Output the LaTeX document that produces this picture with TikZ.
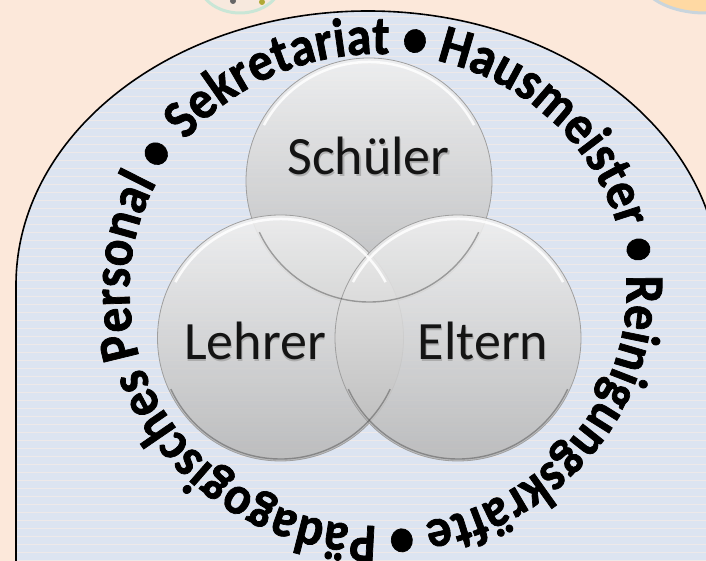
\documentclass[tikz,border=0pt]{standalone}
\usepackage{fontspec}
\setmainfont{Carlito}
\newfontfamily\ringfont{Carlito}[FakeStretch=0.905, FakeBold=1.3]
\usetikzlibrary{decorations.text}
\definecolor{peach}{HTML}{FCE8DA}
\definecolor{paleblue}{HTML}{DCE4F1}
\definecolor{stripe}{HTML}{FBEDE4}
\definecolor{fragA}{HTML}{C9E6D6}
\definecolor{fragB}{HTML}{C9D5DD}
\definecolor{fragBfill}{HTML}{FFD9A3}
\tikzset{
  venn/.style={circle, minimum size=246pt, inner sep=0pt, top color=gray!12, bottom color=gray!56, fill opacity=.88, draw=gray!75, line width=.8pt},
  vlabel/.style={font=\fontsize{54}{60}\selectfont, text=black!92, anchor=base, inner sep=0pt},
  vshadow/.style={font=\fontsize{54}{60}\selectfont, text=gray, opacity=.45, anchor=base, inner sep=0pt},
  hilite/.style={white, line width=2.5pt, opacity=.85},
  lowrim/.style={gray!40!black, line width=1.4pt, opacity=.4}
}
\begin{document}
\begin{tikzpicture}[x=1pt,y=1pt]
\useasboundingbox (0,0) rectangle (706,561);
\fill[peach] (0,0) rectangle (706,561);
\begin{scope}
  \clip (0,0) rectangle (706,561);
  % cut-off pictures at the top
  \filldraw[fill=peach!70!brown!40, draw=fragA, line width=3pt] (240,581) ellipse [x radius=42, y radius=33];
  \fill[black!60] (233,560) circle[radius=3];
  \fill[olive!70] (262,559) circle[radius=3];
  \filldraw[fill=fragBfill, draw=fragB, line width=3pt] (705,586) ellipse [x radius=66, y radius=38];
  % arch
  \fill[paleblue] (16,-5) -- (16,276) arc[start angle=180, end angle=0, x radius=352, y radius=274] -- (720,-5) -- cycle;
  \begin{scope}
    \clip (16,-5) -- (16,276) arc[start angle=180, end angle=0, x radius=352, y radius=274] -- (720,-5) -- cycle;
    \foreach \yy in {1,9,...,561} \draw[stripe, line width=.3pt, opacity=.6] (0,\yy) -- (720,\yy);
  \end{scope}
  \draw[line width=1.6pt] (16,-5) -- (16,276) arc[start angle=180, end angle=0, x radius=352, y radius=274] -- (720,-5);
\end{scope}
% Venn circles
\node[venn] (S) at (369,380) {};
\node[venn] (L) at (280.5,223) {};
\node[venn] (E) at (458,223) {};
\foreach \c in {S,L,E}{
  \draw[hilite] (\c.center) ++(28:119) arc[start angle=28, end angle=152, radius=119];
  \draw[lowrim] (\c.center) ++(205:121) arc[start angle=205, end angle=335, radius=121];
}
% labels
\node[vshadow] at (369.8,384.5) {Schüler};
\node[vlabel] (tS) at (368.5,386) {Schüler};
\node[vshadow] at (255.8,199.5) {Lehrer};
\node[vlabel] (tL) at (255,201) {Lehrer};
\node[vshadow] at (483.8,199.5) {Eltern};
\node[vlabel] (tE) at (483,201) {Eltern};
% ring text
\path[decorate, decoration={text along path, text align=left,
  text={|\ringfont\bfseries\fontsize{55}{56}\selectfont|Sekretariat • Hausmeister • Reinigungskräfte • Pädagogisches Personal •}}]
  (378,271) ++(140.7:248.5 and 236) arc[start angle=140.7, end angle=-219.3, x radius=248.5, y radius=236];
\end{tikzpicture}
\end{document}
